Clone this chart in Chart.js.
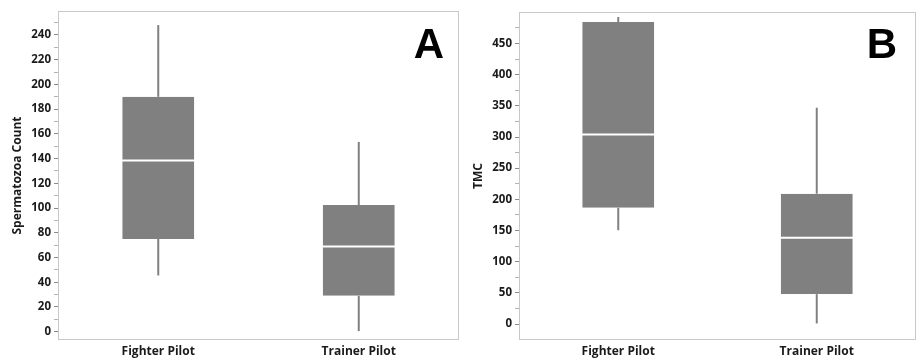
<!DOCTYPE html>
<html><head><meta charset="utf-8">
<script src="https://cdn.jsdelivr.net/npm/chart.js@4"></script>
<style>
html,body{margin:0;padding:0;background:#fff;overflow:hidden}
#a{position:absolute;left:0;top:0}
#b{position:absolute;left:460px;top:0}
</style>
</head><body>
<canvas id="a" width="460" height="358"></canvas>
<canvas id="b" width="457" height="358"></canvas>
<script>
// ---- data ----
const categories = ['Fighter Pilot', 'Trainer Pilot'];

// Panel A: Spermatozoa Count
const countMin    = [45.5, 0.5];
const countQ1     = [75, 29];
const countMedian = [138.5, 69];
const countQ3     = [190, 102.5];
const countMax    = [248, 153.5];
const countTicks      = [0, 20, 40, 60, 80, 100, 120, 140, 160, 180, 200, 220, 240];
const countMinorTicks = [10, 30, 50, 70, 90, 110, 130, 150, 170, 190, 210, 230, 250];

// Panel B: TMC
const tmcMin    = [150.5, 1];
const tmcQ1     = [186.5, 48];
const tmcMedian = [304, 138.5];
const tmcQ3     = [484.5, 209];
const tmcMax    = [492.5, 347];
const tmcTicks      = [0, 50, 100, 150, 200, 250, 300, 350, 400, 450];
const tmcMinorTicks = [25, 75, 125, 175, 225, 275, 325, 375, 425, 475];

// ---- styling ----
const boxColor = '#808080';
const frameColor = '#c8c8c8';
const textColor = '#1a1a1a';
const tickFont = {family: '"Open Sans", "Noto Sans", sans-serif', size: 11.5, weight: 'bold'};
const catFont = {family: '"Open Sans", "Noto Sans", sans-serif', size: 12, weight: 'bold'};

const framePlugin = {
  id: 'frame',
  afterDraw(chart, args, opts) {
    const {ctx, chartArea: a} = chart;
    ctx.save();
    ctx.strokeStyle = frameColor;
    ctx.lineWidth = 1;
    ctx.strokeRect(Math.round(a.left) + 0.5, Math.round(a.top) + 0.5,
                   Math.round(a.right - a.left) - 1, Math.round(a.bottom - a.top) - 1);
    ctx.font = 'bold 42px "Liberation Sans", Arial, sans-serif';
    ctx.fillStyle = '#000';
    ctx.textAlign = 'center';
    ctx.textBaseline = 'alphabetic';
    ctx.fillText(opts.letter, a.right - opts.dx, a.top + opts.dy);
    ctx.restore();
  }
};

function boxChart(id, s, cfg) {
  const idx = categories.map((c, i) => i);
  const datasets = [
    { // lower half of box, white top edge = median
      data: idx.map(i => [s.q1[i], s.med[i]]),
      backgroundColor: boxColor, borderColor: '#ffffff',
      borderWidth: {top: 1, bottom: 0, left: 0, right: 0}, borderSkipped: false,
      inflateAmount: 0, barThickness: 72, grouped: false, order: 1
    },
    { // upper half of box, white bottom edge = median
      data: idx.map(i => [s.med[i], s.q3[i]]),
      backgroundColor: boxColor, borderColor: '#ffffff',
      borderWidth: {top: 0, bottom: 1, left: 0, right: 0}, borderSkipped: false,
      inflateAmount: 0, barThickness: 72, grouped: false, order: 1
    },
    { // lower whisker
      data: idx.map(i => [s.min[i], s.q1[i]]),
      backgroundColor: boxColor, borderWidth: 0, inflateAmount: 0,
      barThickness: 2, grouped: false, order: 2
    },
    { // upper whisker
      data: idx.map(i => [s.q3[i], s.max[i]]),
      backgroundColor: boxColor, borderWidth: 0, inflateAmount: 0,
      barThickness: 2, grouped: false, order: 2
    }
  ];
  return new Chart(document.getElementById(id), {
    type: 'bar',
    data: {labels: categories, datasets},
    plugins: [framePlugin],
    options: {
      responsive: false,
      animation: false,
      devicePixelRatio: 1,
      layout: {padding: {top: cfg.top, right: cfg.right, bottom: 0, left: 0}},
      plugins: {
        legend: {display: false},
        tooltip: {enabled: false},
        frame: {letter: cfg.letter, dx: cfg.dx, dy: cfg.dy}
      },
      scales: {
        x: {
          type: 'category',
          offset: true,
          grid: {display: false, drawTicks: false, tickLength: 0},
          border: {display: false},
          ticks: {font: catFont, color: textColor, padding: 4, maxRotation: 0},
          afterFit(scale) { scale.height = 18; }
        },
        y: {
          min: cfg.min, max: cfg.max,
          grid: {
            drawOnChartArea: false, drawTicks: true, tickLength: 4,
            tickColor: ctx => cfg.major.includes(ctx.tick.value) ? '#8c8c8c' : '#b4b4b4'
          },
          border: {display: false},
          afterBuildTicks(scale) {
            scale.ticks = [...cfg.major, ...cfg.minor].sort((a, b) => a - b).map(v => ({value: v}));
          },
          ticks: {
            autoSkip: false, font: tickFont, color: textColor, padding: 3,
            callback: v => cfg.major.includes(v) ? String(v) : ''
          },
          title: {
            display: true, text: cfg.title, color: textColor,
            font: {family: '"Open Sans", "Noto Sans", sans-serif', size: 12, weight: 'bold'},
            padding: {top: cfg.titlePad, bottom: 0}
          },
          afterFit(scale) { scale.width = cfg.yWidth; }
        }
      }
    }
  });
}

boxChart('a',
  {min: countMin, q1: countQ1, med: countMedian, q3: countQ3, max: countMax},
  {letter: 'A', dx: 30, dy: 47, top: 11, right: 1, min: -6.7, max: 259.4,
   major: countTicks, minor: countMinorTicks, title: 'Spermatozoa Count',
   titlePad: 10, yWidth: 58});

boxChart('b',
  {min: tmcMin, q1: tmcQ1, med: tmcMedian, q3: tmcQ3, max: tmcMax},
  {letter: 'B', dx: 34, dy: 46, top: 12, right: 1, min: -25.6, max: 500.5,
   major: tmcTicks, minor: tmcMinorTicks, title: 'TMC',
   titlePad: 11, yWidth: 59});
</script>
</body></html>
